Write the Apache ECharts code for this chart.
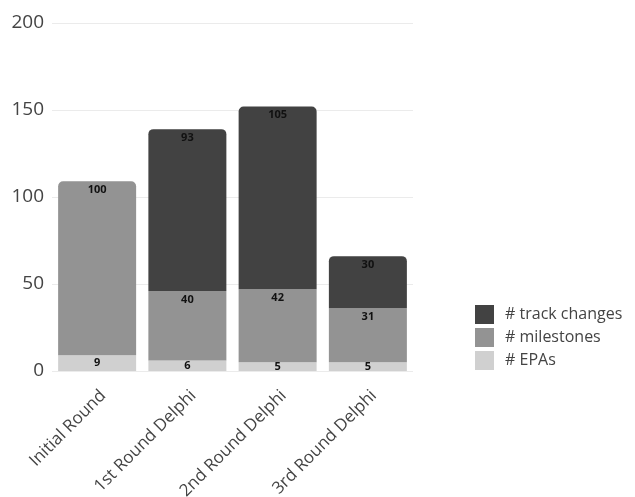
<!DOCTYPE html>
<html>
<head>
<meta charset="utf-8">
<script src="https://cdn.jsdelivr.net/npm/echarts@6/dist/echarts.min.js"></script>
<style>
  html, body { margin: 0; padding: 0; background: #fff; }
  #chart { width: 635px; height: 497px; }
</style>
</head>
<body>
<div id="chart"></div>
<script>
const rounds = ["Initial Round", "1st Round Delphi", "2nd Round Delphi", "3rd Round Delphi"];
const epas = [9, 6, 5, 5];
const milestones = [100, 40, 42, 31];
const trackChanges = [null, 93, 105, 30];
const yTicks = { min: 0, max: 200, interval: 50 };

let chart = echarts.init(document.getElementById("chart"));
const font = "'Open Sans', sans-serif";
const topRadius = [5, 5, 0, 0];

// segment labels
function segLabel(pos, dist) {
    return {
        show: true, position: pos, distance: dist,
        color: "#111", fontSize: 11, fontWeight: "bold", fontFamily: font,
        formatter: p => (p.value == null ? "" : p.value)
    };
}

// milestones is the top segment where there are no track changes
let milestoneData = milestones.map((v, i) =>
    trackChanges[i] == null ? { value: v, itemStyle: { borderRadius: topRadius } } : v);

let option = {
    animation: false,
    textStyle: { fontFamily: font },
    grid: { left: 52, top: 23, width: 361, height: 348, outerBoundsMode: "none" },
    legend: {
        orient: "vertical", left: 470, top: 300,
        icon: "rect", itemWidth: 19, itemHeight: 19, itemGap: 4,
        textStyle: { fontSize: 16, color: "#444", fontFamily: font, padding: [0, 0, 0, 6] },
        data: ["# track changes", "# milestones", "# EPAs"]
    },
    xAxis: {
        type: "category", data: rounds,
        axisLine: { show: false }, axisTick: { show: false },
        axisLabel: { rotate: 45, fontSize: 17, color: "#444", margin: 16,
                     verticalAlign: "top", fontFamily: font }
    },
    yAxis: {
        type: "value", min: yTicks.min, max: yTicks.max, interval: yTicks.interval,
        axisLabel: { fontSize: 19, color: "#444", margin: 8, fontFamily: font },
        splitLine: { lineStyle: { color: "#ebebeb" } }
    },
    series: [
        { name: "# EPAs", type: "bar", stack: "a", barWidth: 78, data: epas,
          itemStyle: { color: "#d0d0d0" }, label: segLabel("inside", 0) },
        { name: "# milestones", type: "bar", stack: "a", data: milestoneData,
          itemStyle: { color: "#939393" }, label: segLabel("insideTop", 3) },
        { name: "# track changes", type: "bar", stack: "a", data: trackChanges,
          itemStyle: { color: "#424242", borderRadius: topRadius }, label: segLabel("insideTop", 3) }
    ]
};

chart.setOption(option);
</script>
</body>
</html>
